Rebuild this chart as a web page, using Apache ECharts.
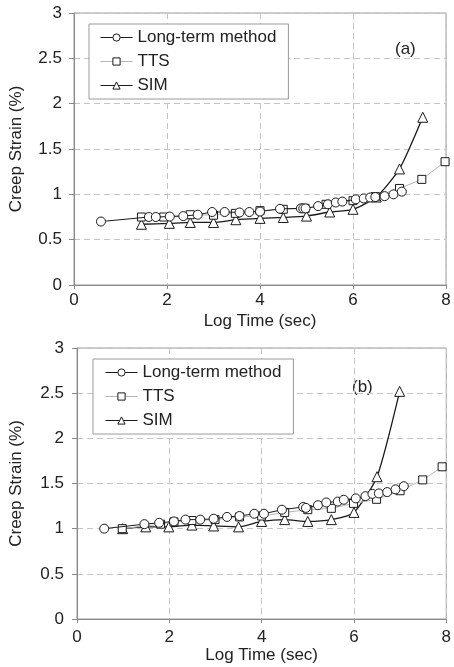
<!DOCTYPE html>
<html>
<head>
<meta charset="utf-8">
<script src="https://cdn.jsdelivr.net/npm/echarts@6/dist/echarts.min.js"></script>
<style>
html,body{margin:0;padding:0;background:#fff;}
#c{width:454px;height:667px;}
</style>
</head>
<body>
<div id="c"></div>
<script>
// ---- Data (x = log time in sec, y = creep strain %) ----
var xTicks = [0, 2, 4, 6, 8];
var yTicks = [0, 0.5, 1, 1.5, 2, 2.5, 3];
var seriesNames = ['Long-term method', 'TTS', 'SIM'];

// Panel (a)
var aLongTerm = [[0.58,0.70],[1.61,0.75],[1.76,0.75],[2.06,0.755],[2.35,0.76],[2.66,0.775],[2.97,0.805],[3.24,0.805],[3.56,0.80],[3.77,0.805],[4.0,0.81],[4.43,0.84],[4.88,0.845],[4.93,0.845],[4.98,0.845],[5.25,0.87],[5.46,0.89],[5.63,0.91],[5.77,0.92],[6.06,0.945],[6.23,0.955],[6.37,0.965],[6.48,0.97],[6.68,0.98],[6.87,1.0],[7.05,1.03]];
var aTTS = [[1.45,0.75],[1.93,0.75],[2.5,0.775],[3.0,0.77],[3.47,0.79],[4.0,0.82],[4.5,0.835],[4.97,0.845],[5.42,0.89],[6.0,0.93],[6.48,0.975],[7.0,1.065],[7.48,1.165],[7.98,1.36]];
var aSIM = [[1.45,0.67],[2.05,0.68],[2.5,0.69],[3.0,0.69],[3.48,0.72],[4.0,0.735],[4.5,0.745],[5.0,0.76],[5.5,0.805],[6.0,0.835],[6.5,0.97],[7.0,1.28],[7.5,1.85]];

// Panel (b)
var bLongTerm = [[0.59,1.0],[1.46,1.05],[1.78,1.065],[2.1,1.08],[2.35,1.10],[2.67,1.10],[2.96,1.11],[3.25,1.13],[3.52,1.14],[3.84,1.165],[4.05,1.165],[4.44,1.21],[4.9,1.24],[4.96,1.23],[5.22,1.26],[5.40,1.29],[5.65,1.30],[5.78,1.32],[6.04,1.335],[6.25,1.36],[6.4,1.385],[6.54,1.39],[6.72,1.405],[6.9,1.435],[7.08,1.47]];
var bTTS = [[0.98,1.0],[1.81,1.05],[2.1,1.075],[2.49,1.09],[2.99,1.10],[3.52,1.13],[4.0,1.14],[4.5,1.18],[5.0,1.21],[5.51,1.225],[5.99,1.28],[6.49,1.325],[7.0,1.42],[7.49,1.54],[7.91,1.685]];
var bSIM = [[0.99,1.0],[1.49,1.02],[1.99,1.02],[2.49,1.04],[2.96,1.03],[3.5,1.02],[4.0,1.08],[4.5,1.10],[5.0,1.08],[5.51,1.10],[6.0,1.18],[6.5,1.575],[6.99,2.52]];

var FONT = '"Liberation Sans", Arial, sans-serif';
var TXT = '#222';

function xAxis(gi, margin){
  return {
    type:'value', gridIndex:gi, min:xTicks[0], max:xTicks[xTicks.length-1], interval:2,
    name:'Log Time (sec)', nameLocation:'middle', nameGap:28,
    nameTextStyle:{fontSize:17, color:TXT, fontFamily:FONT},
    axisLine:{show:true, lineStyle:{color:'#8a8a8a', width:1}},
    axisTick:{show:true, length:4, lineStyle:{color:'#8a8a8a'}},
    axisLabel:{fontSize:17, color:TXT, fontFamily:FONT, margin:margin},
    splitLine:{show:true, lineStyle:{color:'#c4c4c4', type:[6,4], width:1}}
  };
}
function yAxis(gi, gap, margin){
  return {
    type:'value', gridIndex:gi, min:yTicks[0], max:yTicks[yTicks.length-1], interval:0.5,
    name:'Creep Strain (%)', nameLocation:'middle', nameGap:gap,
    nameTextStyle:{fontSize:17, color:TXT, fontFamily:FONT},
    axisLine:{show:true, lineStyle:{color:'#8a8a8a', width:1}},
    axisTick:{show:true, length:5, lineStyle:{color:'#8a8a8a'}},
    axisLabel:{fontSize:17, color:TXT, fontFamily:FONT, margin:margin},
    splitLine:{show:true, lineStyle:{color:'#c4c4c4', type:[6,4], width:1}}
  };
}
function mk(name, data, gi, kind){
  var s = {
    name:name, type:'line', xAxisIndex:gi, yAxisIndex:gi, data:data,
    showSymbol:true, animation:false,
    itemStyle:{color:'#fff', borderColor:'#1a1a1a', borderWidth:1},
    emphasis:{disabled:true}
  };
  if(kind===0){ s.symbol='circle'; s.symbolSize=9; s.lineStyle={color:'#1a1a1a', width:1}; s.z=4; }
  if(kind===1){ s.symbol='rect'; s.symbolSize=8; s.lineStyle={color:'#b5b5b5', width:1}; s.z=3; }
  if(kind===2){ s.symbol='triangle'; s.symbolSize=10; s.lineStyle={color:'#1a1a1a', width:1.3}; s.smooth=0.2; s.z=2; }
  return s;
}
function legend(left, top, pad){
  return {
    orient:'vertical', left:left, top:top, data:seriesNames,
    itemWidth:32, itemHeight:9, itemGap:7, padding:pad,
    borderColor:'#9a9a9a', borderWidth:1, backgroundColor:'#fff',
    selectedMode:false,
    itemStyle:{borderWidth:1},
    lineStyle:{width:1},
    textStyle:{fontSize:17, color:TXT, fontFamily:FONT, padding:[0,0,0,0]}
  };
}

var chart = echarts.init(document.getElementById('c'), null, {renderer:'canvas'});
chart.setOption({
  backgroundColor:'#fff',
  animation:false,
  textStyle:{fontFamily:FONT},
  grid:[
    {left:72, top:13, width:374, height:272, show:true, borderColor:'#9a9a9a', borderWidth:1, containLabel:false},
    {left:75, top:348, width:375, height:271, show:true, borderColor:'#9a9a9a', borderWidth:1, containLabel:false}
  ],
  xAxis:[xAxis(0,7), xAxis(1,10)],
  yAxis:[yAxis(0,49,12), yAxis(1,52,13)],
  legend:[legend(89,24,[5,12,5,11]), legend(93,359,[5,12,5,12])],
  graphic:[
    {type:'text', left:395, top:41, style:{text:'(a)', fontSize:17, fill:TXT, fontFamily:FONT}},
    {type:'text', left:352, top:379, style:{text:'(b)', fontSize:17, fill:TXT, fontFamily:FONT}}
  ],
  series:[
    mk(seriesNames[2], aSIM, 0, 2),
    mk(seriesNames[1], aTTS, 0, 1),
    mk(seriesNames[0], aLongTerm, 0, 0),
    mk(seriesNames[2], bSIM, 1, 2),
    mk(seriesNames[1], bTTS, 1, 1),
    mk(seriesNames[0], bLongTerm, 1, 0)
  ]
});
</script>
</body>
</html>
